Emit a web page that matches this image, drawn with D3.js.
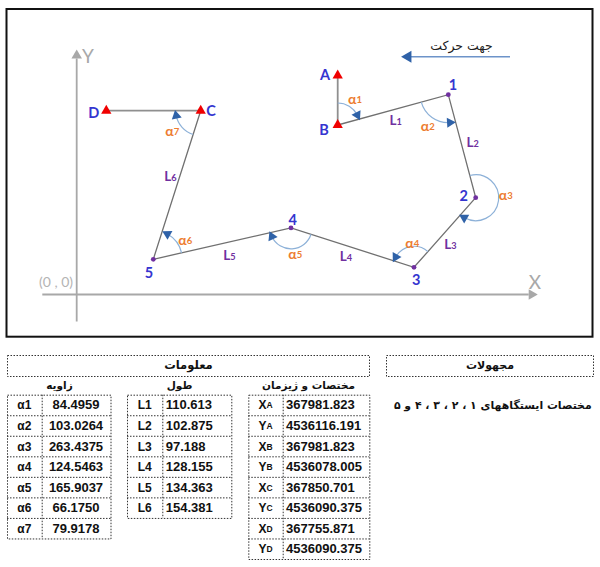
<!DOCTYPE html>
<html><head><meta charset="utf-8">
<script src="https://cdn.jsdelivr.net/npm/d3@7"></script>
<style>html,body{margin:0;padding:0;background:#fff}svg{display:block}</style>
</head><body><svg id="c" width="600" height="567"></svg>
<script>
// ---- data (schematic units: distance from the diagram's origin) ----
const stationNames = ["A","B","1","2","3","4","5","C","D"];
const stationX = [261,261,371.6,399,337.3,214.3,76.6,124,29.6];
const stationY = [219,169.5,199.8,96.8,27.2,66.6,35.2,183.8,183.8];
const controlStations = ["A","B","C","D"];
const traverse = ["B","1","2","3","4","5","C"];
const baseLines = [["A","B"],["D","C"]];

const angleVertex = ["B","1","2","3","4","5","C"];
const angleFrom = [null,"B","1","2","3","4","5"];
const angleTo = ["1","2","3","4","5","C","D"];
const angleSweep = [1,-1,1,-1,1,-1,1];
const angleRadius = [22,28,23,21,21,29,25];

const angleIds = ["α1","α2","α3","α4","α5","α6","α7"];
const angleVals = ["84.4959","103.0264","263.4375","124.5463","165.9037","66.1750","79.9178"];
const lenIds = ["L1","L2","L3","L4","L5","L6"];
const lenVals = ["110.613","102.875","97.188","128.155","134.363","154.381"];
const coordIds = [["X","A"],["Y","A"],["X","B"],["Y","B"],["X","C"],["Y","C"],["X","D"],["Y","D"]];
const coordVals = ["367981.823","4536116.191","367981.823","4536078.005","367850.701","4536090.375","367755.871","4536090.375"];

// ---- scales ----
const x = d3.scaleLinear().domain([0,460]).range([76.7,536.7]);
const y = d3.scaleLinear().domain([0,244]).range([294.5,50.5]);
const rowBand = d3.scaleBand().domain(d3.range(8)).range([394.7,559]);
const st = {};
stationNames.forEach((n,i)=>st[n]=[x(stationX[i]),y(stationY[i])]);

const svg = d3.select("#c");
const LAT = "Lato, 'Open Sans', sans-serif";
const FA = "'DejaVu Sans', sans-serif";
const AR = "'Liberation Sans', Arial, sans-serif";
const GRAY="#a8a8a8", ORANGE="#ed7d31", PURPLE="#7030a0", BLUE="#3535d0", ARC="#8db1d8", HEAD="#2f62a8";

// frame
svg.append("rect").attr("x",6.5).attr("y",9).attr("width",586).attr("height",327.7)
  .attr("fill","none").attr("stroke","#111").attr("stroke-width",2);

// axes
const axisG = svg.append("g").attr("stroke",GRAY).attr("stroke-width",1.8).attr("fill","none");
axisG.append("line").attr("x1",x(-34.4)).attr("x2",x(452)).attr("y1",y(0)).attr("y2",y(0));
axisG.append("line").attr("x1",x(0)).attr("x2",x(0)).attr("y1",y(-27)).attr("y2",y(236));
const tri = d3.symbol().type(d3.symbolTriangle);
svg.append("path").attr("d",tri.size(48)()).attr("fill",GRAY).attr("transform",`translate(${x(455)},${y(0)}) rotate(90)`);
svg.append("path").attr("d",tri.size(48)()).attr("fill",GRAY).attr("transform",`translate(${x(0)},${y(239)})`);
const txt=(t,px,py,size,fill,fam,weight)=>svg.append("text").attr("x",px).attr("y",py).attr("text-anchor","middle")
  .attr("dominant-baseline","central").attr("font-size",size).attr("fill",fill).attr("font-family",fam).attr("font-weight",weight||400).text(t);
txt("X",535,281,19,GRAY,LAT);
txt("Y",88,55,19,GRAY,LAT);
txt("(0 , 0)",56,281.5,14,"#b4b4b4",LAT);

// direction arrow
svg.append("line").attr("x1",510).attr("x2",410).attr("y1",56.7).attr("y2",56.7).attr("stroke","#6d93c9").attr("stroke-width",1.6);
svg.append("path").attr("d",tri.size(62)()).attr("fill",HEAD).attr("transform","translate(408,56.7) rotate(-90)");
txt("جهت حرکت",461.5,45,12.5,"#222",FA).attr("direction","rtl");

// traverse
svg.append("path").datum(traverse.map(n=>st[n])).attr("d",d3.line()).attr("fill","none").attr("stroke","#707070").attr("stroke-width",1.3);
baseLines.forEach(([a,b])=>svg.append("line").attr("x1",st[a][0]).attr("y1",st[a][1]).attr("x2",st[b][0]).attr("y2",st[b][1]).attr("stroke","#8f8f8f").attr("stroke-width",1.8));

// angle arcs, drawn from the neighbouring stations
const bearing=(p,q)=>{let b=Math.atan2(q[0]-p[0],-(q[1]-p[1])); return b<0?b+2*Math.PI:b;};
const arcGen=d3.arc();
angleVertex.forEach((v,i)=>{
  const c=st[v], r=angleRadius[i], s=angleSweep[i];
  let a0=angleFrom[i]?bearing(c,st[angleFrom[i]]):0, a1=bearing(c,st[angleTo[i]]);
  if(s>0&&a1<a0)a1+=2*Math.PI; if(s<0&&a1>a0)a1-=2*Math.PI;
  const back=s*0.2, end=a1-back;
  svg.append("path").attr("d",arcGen({innerRadius:r,outerRadius:r,startAngle:a0,endAngle:end}))
    .attr("transform",`translate(${c})`).attr("fill","none").attr("stroke",ARC).attr("stroke-width",1.2);
  const hx=c[0]+r*Math.sin(end), hy=c[1]-r*Math.cos(end);
  const deg=end*180/Math.PI+(s>0?90:-90);
  svg.append("path").attr("d",tri.size(44)()).attr("fill",HEAD).attr("transform",`translate(${hx},${hy}) rotate(${deg})`);
});

// stations
controlStations.forEach(n=>svg.append("path").attr("d",tri.size(46)()).attr("fill","#f00000").attr("transform",`translate(${st[n][0]},${st[n][1]})`));
traverse.filter(n=>!controlStations.includes(n)).forEach(n=>svg.append("circle").attr("cx",st[n][0]).attr("cy",st[n][1]).attr("r",2.4).attr("fill",PURPLE));

// labels
const stationLabelAt={A:[325,74.5],B:[324,129.5],"1":[453,84],"2":[463.7,195.5],"3":[416.3,279],"4":[292.7,219],"5":[149,272],C:[211,110],D:[93.7,112]};
Object.entries(stationLabelAt).forEach(([k,p])=>txt(k,p[0],p[1],14.5,BLUE,LAT,700));
const subLabel=(main,sub,p,fill,fam,size)=>{
  const t=txt("",p[0],p[1],size,fill,fam,700);
  t.append("tspan").text(main); t.append("tspan").attr("font-size",size*0.68).attr("dy",1).text(sub);
  return t;};
const lenLabelAt=[[395.7,120],[472.7,141.7],[450.3,244],[346,255.7],[229.3,255.3],[170.3,175.7]];
lenLabelAt.forEach((p,i)=>subLabel("L",String(i+1),p,PURPLE,LAT,13.5));
const alphaLabelAt=[[355,98.3],[427.7,125.3],[505.7,194.3],[412.3,242],[295.3,253.3],[185.3,238.7],[172.3,130]];
alphaLabelAt.forEach((p,i)=>subLabel("α",String(i+1),p,ORANGE,LAT,14));

// tables
const dash=sel=>sel.attr("fill","none").attr("stroke","#333").attr("stroke-width",1).attr("stroke-dasharray","1.5 1.5");
const box=(x0,y0,x1,y1)=>dash(svg.append("rect").attr("x",x0+.5).attr("y",y0+.5).attr("width",x1-x0).attr("height",y1-y0));
box(7,355,369,376); box(386,355,593,376);
txt("معلومات",188.5,364.5,11.5,"#111",FA,700).attr("direction","rtl");
txt("مجهولات",490,365,11,"#111",FA,700).attr("direction","rtl");
txt("مختصات ایستگاههای ۱ ، ۲ ، ۳ ، ۴ و ۵",492.8,405.5,10.9,"#111",FA,700).attr("direction","rtl");
txt("زاویه",59.5,385,10.5,"#111",FA,700).attr("direction","rtl");
txt("طول",179.5,385,10.5,"#111",FA,700).attr("direction","rtl");
txt("مختصات و ژیزمان",308.5,385,10.5,"#111",FA,700).attr("direction","rtl");

function table(ids,vals,x0,xs,x1,anchor,valX){
  const h=rowBand.step();
  const y0=rowBand(0);
  box(x0,y0,x1,y0+h*ids.length);
  dash(svg.append("line").attr("x1",xs+.5).attr("x2",xs+.5).attr("y1",y0).attr("y2",y0+h*ids.length));
  ids.forEach((id,i)=>{
    const yc=rowBand(i)+h/2;
    if(i>0)dash(svg.append("line").attr("x1",x0).attr("x2",x1).attr("y1",rowBand(i)+.5).attr("y2",rowBand(i)+.5));
    const t=txt("",(x0+xs)/2,yc+.5,12,"#111",AR,700);
    if(Array.isArray(id)){t.append("tspan").text(id[0]);t.append("tspan").attr("font-size",8.5).text(id[1]);}
    else t.text(id);
    txt(vals[i],valX,yc,13,"#111",AR,700).attr("text-anchor",anchor);
  });
}
table(angleIds,angleVals,7,41.7,110.5,"middle",76);
table(lenIds,lenVals,127,162.3,231.3,"start",165.7);
table(coordIds,coordVals,248.3,282.7,369.3,"start",286);
</script></body></html>
